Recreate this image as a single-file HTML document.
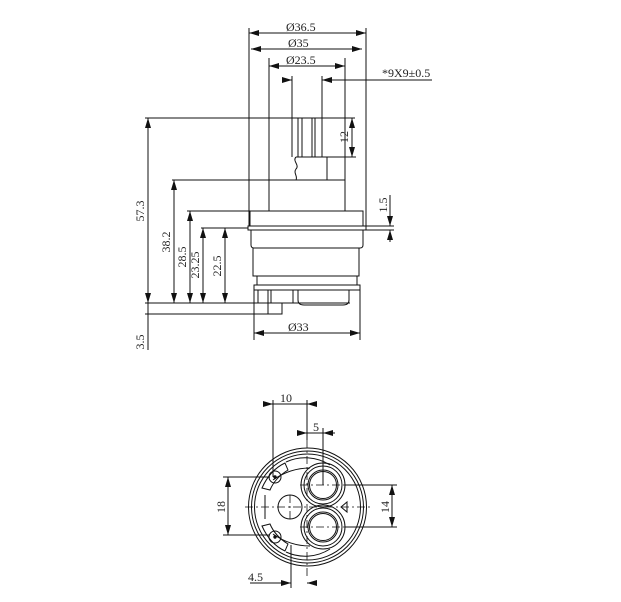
<!DOCTYPE html>
<html><head><style>
body{margin:0;background:#fff}
svg{display:block}
text{font-family:"Liberation Serif",serif;font-size:12px;fill:#222}
</style></head><body>
<svg width="621" height="602" viewBox="0 0 621 602" xmlns="http://www.w3.org/2000/svg">
<defs>
<marker id="a" viewBox="0 0 10 6" refX="10" refY="3" markerWidth="10" markerHeight="6" orient="auto-start-reverse" markerUnits="userSpaceOnUse"><path d="M0,0L10,3L0,6z" fill="#111"/></marker>
</defs>
<g stroke="#111" fill="none" stroke-width="1">
<line x1="249" y1="28" x2="249" y2="226"/>
<line x1="366" y1="28" x2="366" y2="226"/>
<line x1="269" y1="58" x2="269" y2="211"/>
<line x1="345" y1="58" x2="345" y2="211"/>
<line x1="292" y1="76" x2="292" y2="118"/>
<line x1="322" y1="76" x2="322" y2="118"/>
<line x1="249" y1="33" x2="366" y2="33" marker-start="url(#a)" marker-end="url(#a)"/>
<line x1="251" y1="49" x2="362" y2="49" marker-start="url(#a)" marker-end="url(#a)"/>
<line x1="269" y1="66" x2="345" y2="66" marker-start="url(#a)" marker-end="url(#a)"/>
<line x1="282" y1="80" x2="292" y2="80" marker-end="url(#a)"/>
<line x1="322" y1="80" x2="332" y2="80" marker-start="url(#a)"/>
<line x1="332" y1="80" x2="432" y2="80"/>
<path d="M292 118H322V157"/>
<line x1="292" y1="118" x2="292" y2="157"/>
<line x1="298" y1="118" x2="298" y2="157"/>
<line x1="302" y1="118" x2="302" y2="157"/>
<line x1="312" y1="118" x2="312" y2="157"/>
<line x1="315" y1="118" x2="315" y2="157"/>
<path d="M296 157H327V180"/>
<path d="M296 157c-4 4 4 8 0 12c-3 4 2 7 0 11"/>
<line x1="145" y1="118" x2="355" y2="118"/>
<line x1="322" y1="157" x2="356" y2="157"/>
<line x1="352" y1="118" x2="352" y2="157" marker-start="url(#a)" marker-end="url(#a)"/>
<rect x="269" y="180" width="76" height="31"/>
<line x1="172" y1="180" x2="269" y2="180"/>
<rect x="250" y="211" width="113" height="15"/>
<line x1="187" y1="211" x2="250" y2="211"/>
<rect x="248" y="226" width="118" height="4"/>
<line x1="201" y1="228" x2="248" y2="228"/>
<line x1="366" y1="226" x2="394" y2="226"/>
<line x1="366" y1="230" x2="394" y2="230"/>
<line x1="390" y1="195" x2="390" y2="226" marker-end="url(#a)"/>
<line x1="390" y1="230" x2="390" y2="242" marker-start="url(#a)"/>
<path d="M251 230H363V245Q363 248 360 248H254Q251 248 251 245Z"/>
<rect x="253" y="248" width="106" height="28"/>
<rect x="257" y="276" width="100" height="9"/>
<rect x="254" y="285" width="106" height="5"/>
<rect x="258" y="290" width="10" height="13"/>
<rect x="271" y="290" width="22" height="13"/>
<path d="M298 290V300Q298 305 304 305H343Q349 305 349 300V290"/>
<path d="M268 303V314H282V303"/>
<line x1="254" y1="290" x2="254" y2="340"/>
<line x1="360" y1="290" x2="360" y2="340"/>
<line x1="145" y1="303" x2="350" y2="303"/>
<line x1="145" y1="314" x2="282" y2="314"/>
<line x1="148" y1="118" x2="148" y2="303" marker-start="url(#a)" marker-end="url(#a)"/>
<line x1="174" y1="180" x2="174" y2="303" marker-start="url(#a)" marker-end="url(#a)"/>
<line x1="190" y1="211" x2="190" y2="303" marker-start="url(#a)" marker-end="url(#a)"/>
<line x1="203" y1="228" x2="203" y2="303" marker-start="url(#a)" marker-end="url(#a)"/>
<line x1="225" y1="228" x2="225" y2="303" marker-start="url(#a)" marker-end="url(#a)"/>
<line x1="148" y1="303" x2="148" y2="314" />
<line x1="148" y1="314" x2="148" y2="350"/>
<line x1="254" y1="333" x2="360" y2="333" marker-start="url(#a)" marker-end="url(#a)"/>

<circle cx="307.5" cy="507" r="59"/>
<circle cx="307.5" cy="507" r="56"/>
<circle cx="307.5" cy="507" r="53"/>
<path d="M286 462A46 46 0 0 1 330 465" />
<path d="M286 552A46 46 0 0 0 330 549" />
<path d="M262 488Q270 470 285 463L288 470Q275 478 270 490Z"/>
<path d="M262 526Q270 544 285 551L288 544Q275 536 270 524Z"/>
<path d="M265 495V519"/>
<path d="M273 480Q290 468 310 468"/>
<path d="M273 534Q290 546 310 546"/>
<circle cx="290" cy="507" r="12"/>
<circle cx="323" cy="485" r="22"/>
<circle cx="323" cy="485" r="19"/>
<circle cx="323" cy="485" r="15"/>
<circle cx="323" cy="485" r="13.5"/>
<circle cx="323" cy="527" r="22"/>
<circle cx="323" cy="527" r="19"/>
<circle cx="323" cy="527" r="15"/>
<circle cx="323" cy="527" r="13.5"/>
<path d="M341 507l6-5v10z"/>
<circle cx="275" cy="477" r="6"/>
<circle cx="275" cy="537" r="6"/>
<circle cx="275" cy="477" r="1.2" fill="#111"/>
<circle cx="275" cy="537" r="1.2" fill="#111"/>
<g stroke-dasharray="8,3,2,3" stroke-width="0.8">
<line x1="307" y1="440" x2="307" y2="578"/>
<line x1="245" y1="507" x2="372" y2="507"/>
<line x1="300" y1="485" x2="346" y2="485"/>
<line x1="300" y1="527" x2="346" y2="527"/>
<line x1="290" y1="495" x2="290" y2="519"/>
</g>
<line x1="273" y1="400" x2="273" y2="477"/>
<line x1="307" y1="400" x2="307" y2="440"/>
<line x1="323" y1="428" x2="323" y2="485"/>
<line x1="263" y1="404" x2="273" y2="404" marker-end="url(#a)"/>
<line x1="273" y1="404" x2="307" y2="404"/>
<line x1="307" y1="404" x2="317" y2="404" marker-start="url(#a)"/>
<line x1="297" y1="433" x2="307" y2="433" marker-end="url(#a)"/>
<line x1="307" y1="433" x2="323" y2="433"/>
<line x1="323" y1="433" x2="335" y2="433" marker-start="url(#a)"/>
<line x1="223" y1="477" x2="270" y2="477"/>
<line x1="223" y1="535" x2="270" y2="535"/>
<line x1="228" y1="477" x2="228" y2="535" marker-start="url(#a)" marker-end="url(#a)"/>
<line x1="345" y1="485" x2="397" y2="485"/>
<line x1="345" y1="527" x2="397" y2="527"/>
<line x1="392" y1="485" x2="392" y2="527" marker-start="url(#a)" marker-end="url(#a)"/>
<line x1="291" y1="545" x2="291" y2="588"/>
<line x1="250" y1="583" x2="291" y2="583" marker-end="url(#a)"/>
<line x1="307" y1="583" x2="317" y2="583" marker-start="url(#a)"/>
</g>
<g>
<text x="286" y="31">Ø36.5</text>
<text x="288" y="47">Ø35</text>
<text x="286" y="64">Ø23.5</text>
<text x="382" y="77">*9X9±0.5</text>
<text x="288" y="331">Ø33</text>
<text transform="translate(144,211) rotate(-90)" text-anchor="middle">57.3</text>
<text transform="translate(170,242) rotate(-90)" text-anchor="middle">38.2</text>
<text transform="translate(186,257) rotate(-90)" text-anchor="middle">28.5</text>
<text transform="translate(199,265) rotate(-90)" text-anchor="middle">23.25</text>
<text transform="translate(221,266) rotate(-90)" text-anchor="middle">22.5</text>
<text transform="translate(144,342) rotate(-90)" text-anchor="middle">3.5</text>
<text transform="translate(348,137) rotate(-90)" text-anchor="middle">12</text>
<text transform="translate(387,205) rotate(-90)" text-anchor="middle">1.5</text>
<text x="280" y="402">10</text>
<text x="313" y="431">5</text>
<text transform="translate(225,507) rotate(-90)" text-anchor="middle">18</text>
<text transform="translate(389,507) rotate(-90)" text-anchor="middle">14</text>
<text x="248" y="581">4.5</text>
</g>
</svg>
</body></html>
